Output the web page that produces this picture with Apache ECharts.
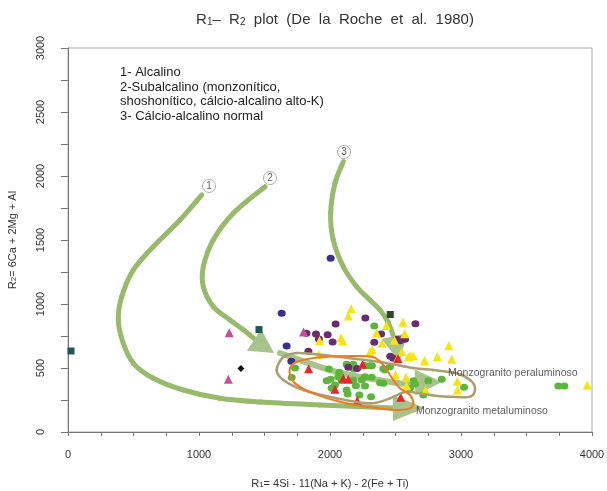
<!DOCTYPE html>
<html>
<head>
<meta charset="utf-8">
<script src="https://cdn.jsdelivr.net/npm/echarts@6.0.0/dist/echarts.min.js"></script>
<style>
  html, body { margin: 0; padding: 0; background: #fff; }
  #runChart { width: 607px; height: 491px; }
</style>
</head>
<body>
<div id="runChart"></div>
<script>
// tick labels
let xTicks = [0, 1000, 2000, 3000, 4000];
let yTicks = [0, 500, 1000, 1500, 2000, 2500, 3000];

// samples, [R1, R2]
let tealSquares = [[23, 633], [1458, 800]];
let darkSquares = [[2460, 918]];
let pinkTriangles = [[1231, 776], [1224, 412], [1798, 781]];
let blackDiamonds = [[1320, 497]];
let navyCircles = [[1631, 927], [1669, 672], [1705, 552], [2005, 1357]];
let purpleCircles = [
  [1820, 772], [1893, 766], [1915, 726], [1982, 760], [2020, 703], [2043, 844],
  [1835, 630], [2270, 890], [2338, 702], [2390, 766], [2652, 845], [2460, 592],
  [2483, 576], [2510, 724], [2535, 713], [2555, 724], [2573, 724], [2140, 506],
  [2207, 497]
];
let yellowTriangles = [
  [2162, 962], [2140, 906], [2085, 737], [2097, 711], [1920, 715], [1915, 606],
  [2323, 643], [2305, 625], [2356, 774], [2430, 832], [2557, 857], [2570, 768],
  [2492, 716], [2397, 693], [2547, 626], [2611, 596], [2636, 594], [2722, 558],
  [2514, 572], [2598, 586], [2819, 589], [2929, 568], [2907, 673], [2501, 448],
  [2580, 428], [2585, 362], [2972, 397], [2973, 328], [2728, 328], [3964, 367]
];
let redTriangles = [
  [1837, 495], [2249, 529], [2102, 420], [2140, 412], [2038, 334], [2208, 245],
  [2540, 271], [2519, 574]
];
let greenCircles = [
  [1733, 500], [1708, 426], [1992, 492], [2071, 466], [2127, 529], [2178, 529],
  [2183, 492], [2265, 520], [2300, 518], [2320, 518], [2407, 495], [2420, 484],
  [2458, 510], [1975, 401], [2005, 412], [2063, 432], [2089, 401], [2038, 367],
  [2013, 341], [2198, 362], [2267, 432], [2135, 297], [2224, 289], [2313, 276],
  [2382, 385], [2407, 380], [2318, 427], [2338, 828], [2636, 401], [2750, 401],
  [2853, 412], [2649, 375], [2712, 289], [2611, 341], [3023, 349], [3743, 359],
  [3789, 359], [2178, 406], [2242, 406], [2127, 328], [2267, 359]
];

// trend curves
let trend1 = [
  [1021, 1852], [855, 1656], [651, 1448], [499, 1266], [410, 1057], [384, 875],
  [422, 693], [499, 537], [651, 420], [880, 328], [1160, 263], [1466, 234],
  [1924, 211], [2481, 188]
];
let trend2 = [
  [1504, 1916], [1262, 1709], [1109, 1500], [1033, 1291], [1033, 1135],
  [1109, 979], [1237, 875], [1336, 800], [1420, 730]
];
let trend2b = [[1618, 617], [2053, 469], [2511, 383], [2649, 380]];
let trend3 = [
  [2102, 2112], [2038, 1943], [2005, 1709], [2025, 1500], [2102, 1291],
  [2204, 1135], [2305, 1031], [2382, 953], [2443, 859], [2481, 758]
];
// arrow heads: tip R1, tip R2, base R1, base R2
let arrowHeads = [
  [2725, 188, 2481, 188],
  [1573, 617, 1420, 719],
  [2855, 391, 2649, 387],
  [2534, 547, 2489, 750]
];
let trendLabels = [[1076, 1922, '1'], [1542, 1984, '2'], [2107, 2188, '3']];

// fields (closed)
let metaField = [
  [1695, 498], [1746, 549], [1924, 584], [2178, 594], [2331, 584], [2407, 523],
  [2483, 406], [2534, 341], [2611, 289], [2636, 224], [2611, 185], [2509, 172],
  [2280, 198], [2076, 237], [1873, 302], [1733, 380], [1695, 445]
];
let peraField = [
  [1593, 484], [1644, 586], [1746, 617], [1873, 609], [2076, 586], [2382, 547],
  [2634, 500], [2786, 484], [2967, 459], [3069, 406], [3107, 341], [3069, 276],
  [2891, 276], [2712, 297], [2573, 313], [2458, 263], [2305, 224], [2051, 263],
  [1796, 328], [1644, 406]
];
let fieldNames = [[2901, 462, 'Monzogranito peraluminoso'], [2656, 160, 'Monzogranito metaluminoso']];

let legendLines = [
  '1- Alcalino',
  '2-Subalcalino (monzonítico,',
  'shoshonítico, cálcio-alcalino alto-K)',
  '3- Cálcio-alcalino normal'
];

let font = 'Liberation Sans, Arial, sans-serif';

// Catmull-Rom curve through the points, one bezier per data item
function spline(pts, closed, color, width, z) {
  return {
    type: 'custom', silent: true, z: z, data: pts, encode: { x: 0, y: 1 },
    renderItem: function (params, api) {
      let n = pts.length, i = params.dataIndex;
      if (!closed && i === n - 1) return null;
      let at = k => api.coord(closed ? pts[(k + n) % n] : pts[Math.max(0, Math.min(n - 1, k))]);
      let p0 = at(i - 1), p1 = at(i), p2 = at(i + 1), p3 = at(i + 2);
      return {
        type: 'bezierCurve',
        shape: {
          x1: p1[0], y1: p1[1], x2: p2[0], y2: p2[1],
          cpx1: p1[0] + (p2[0] - p0[0]) / 6, cpy1: p1[1] + (p2[1] - p0[1]) / 6,
          cpx2: p2[0] - (p3[0] - p1[0]) / 6, cpy2: p2[1] - (p3[1] - p1[1]) / 6
        },
        style: { fill: null, stroke: color, lineWidth: width, lineCap: 'round' }
      };
    }
  };
}

function dots(data, symbol, color, size) {
  return {
    type: 'scatter', data: data, symbol: symbol, symbolSize: size, z: 3,
    itemStyle: { color: color, opacity: 1 }
  };
}

let option = {
  animation: false,
  backgroundColor: '#fff',
  title: {
    text: '{a|R}{s|1}{a|–  R}{s|2}{a|  plot  (De  la  Roche  et  al.  1980)}',
    left: 330, top: 7, textAlign: 'center',
    textStyle: {
      rich: {
        a: { fontSize: 15, fontWeight: 'normal', color: '#333', fontFamily: font },
        s: { fontSize: 10, fontWeight: 'normal', color: '#333', fontFamily: font, verticalAlign: 'bottom' }
      }
    }
  },
  graphic: [{
    type: 'text', left: 120, top: 65,
    style: { text: legendLines.join('\n'), fontSize: 13, lineHeight: 14.7, fill: '#222', fontFamily: font }
  }],
  grid: {
    left: 68, right: 15, top: 48, bottom: 59, show: true,
    borderColor: '#aaa', borderWidth: 1,
    outerBoundsMode: 'none'
  },
  xAxis: {
    type: 'value', min: 0, max: 4000, interval: 250,
    name: '{a|R}{s|1}{a|= 4Si - 11(Na + K) - 2(Fe + Ti)}',
    nameLocation: 'middle', nameGap: 46,
    nameTextStyle: {
      rich: {
        a: { fontSize: 11, color: '#333', fontFamily: font },
        s: { fontSize: 8, color: '#333', fontFamily: font, verticalAlign: 'bottom' }
      }
    },
    axisLine: { show: true, lineStyle: { color: '#777' } },
    axisTick: { show: true, length: 4, lineStyle: { color: '#777' } },
    splitLine: { show: false },
    axisLabel: {
      margin: 17, fontSize: 11, color: '#333', fontFamily: font,
      formatter: v => xTicks.includes(v) ? String(v) : ''
    }
  },
  yAxis: {
    type: 'value', min: 0, max: 3000, interval: 250,
    name: '{a|R}{s|2}{a|= 6Ca + 2Mg + Al}',
    nameLocation: 'middle', nameGap: 50, nameRotate: 90,
    nameTextStyle: {
      rich: {
        a: { fontSize: 11, color: '#333', fontFamily: font },
        s: { fontSize: 8, color: '#333', fontFamily: font, verticalAlign: 'bottom' }
      }
    },
    axisLine: { show: true, lineStyle: { color: '#777' } },
    axisTick: { show: true, length: 7, lineStyle: { color: '#777' } },
    splitLine: { show: false },
    axisLabel: {
      margin: 22, rotate: 90, fontSize: 11, color: '#333', fontFamily: font,
      formatter: v => yTicks.includes(v) ? String(v) : ''
    }
  },
  series: [
    spline(trend1, false, '#97ba6c', 5, 1),
    spline(trend2, false, '#97ba6c', 5, 1),
    spline(trend2b, false, '#a8c48b', 6, 1),
    spline(trend3, false, '#97ba6c', 5, 1),
    {
      type: 'custom', z: 1, silent: true, encode: { x: 0, y: 1 },
      data: arrowHeads,
      renderItem: function (params, api) {
        let tip = api.coord([api.value(0), api.value(1)]);
        let base = api.coord([api.value(2), api.value(3)]);
        let dx = tip[0] - base[0], dy = tip[1] - base[1];
        let len = Math.sqrt(dx * dx + dy * dy);
        let nx = -dy / len * 13, ny = dx / len * 13;
        return {
          type: 'polygon',
          shape: { points: [tip, [base[0] + nx, base[1] + ny], [base[0] - nx, base[1] - ny]] },
          style: { fill: '#a8c48b' }
        };
      }
    },
    {
      type: 'scatter', z: 5, silent: true,
      data: trendLabels,
      symbol: 'circle', symbolSize: 13,
      itemStyle: { color: '#fff', borderColor: '#999', borderWidth: 1 },
      label: {
        show: true, position: 'inside', formatter: p => p.data[2],
        fontSize: 10, color: '#333', fontFamily: font
      }
    },
    spline(peraField, true, '#ab9f72', 2.5, 4),
    spline(metaField, true, '#f07a22', 2, 4),
    dots(greenCircles, 'circle', '#5db53c', [8, 7]),
    dots(purpleCircles, 'circle', '#6b2c6f', [8, 7]),
    dots(navyCircles, 'circle', '#3b2f8c', [8, 7]),
    dots(yellowTriangles, 'triangle', '#f5e50f', 9),
    dots(redTriangles, 'triangle', '#e8262b', 9),
    dots(pinkTriangles, 'triangle', '#c2509c', 9),
    dots(tealSquares, 'rect', '#1f5752', 7),
    dots(darkSquares, 'rect', '#2d4a28', 7),
    dots(blackDiamonds, 'diamond', '#111', 7),
    {
      type: 'scatter', z: 6, silent: true, symbolSize: 0,
      data: fieldNames,
      label: {
        show: true, position: 'right', distance: 0, formatter: p => p.data[2],
        fontSize: 10.5, color: '#333', fontFamily: font
      }
    }
  ]
};

var myChart = echarts.init(document.getElementById('runChart'));
myChart.setOption(option);
</script>
</body>
</html>
